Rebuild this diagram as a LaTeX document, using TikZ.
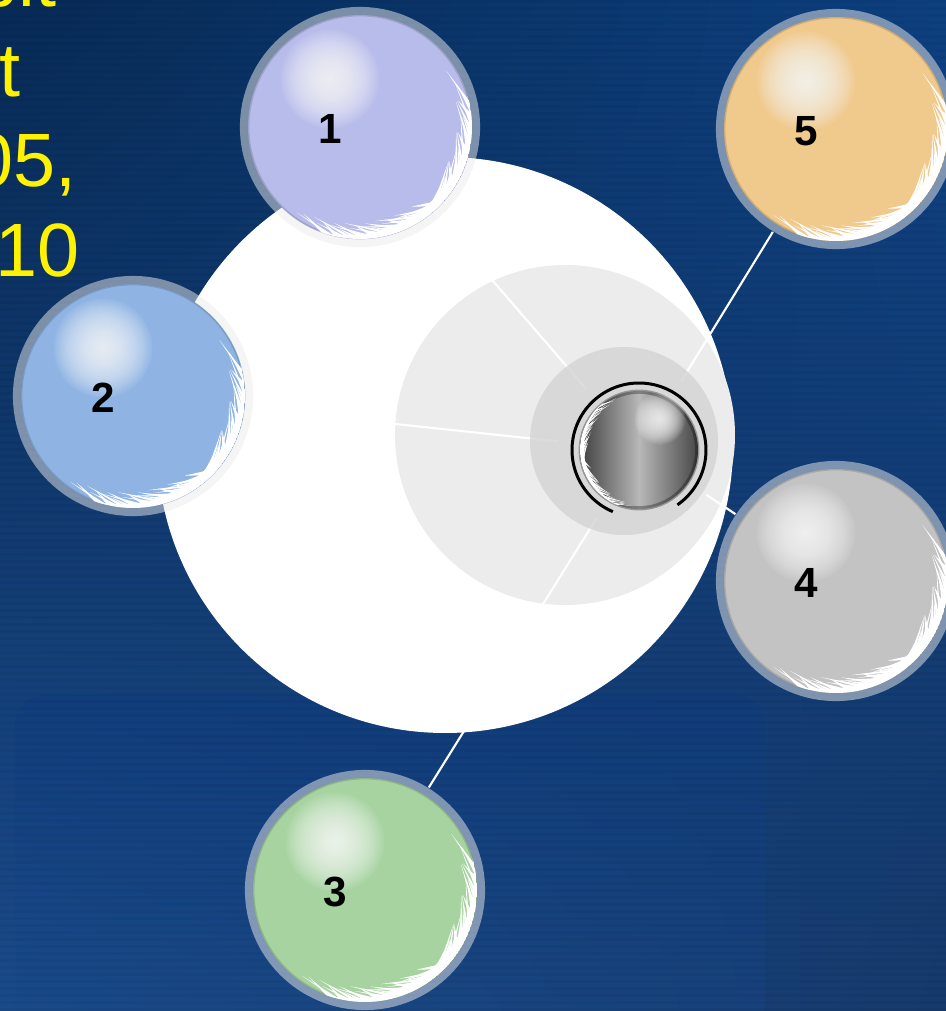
\documentclass[tikz,border=0pt]{standalone}
\usepackage{fontspec}
\setmainfont{Liberation Sans}
\usetikzlibrary{calc, shadings}

\definecolor{bgtl}{HTML}{072A55}
\definecolor{bgtr}{HTML}{0D4080}
\definecolor{bgbl}{HTML}{1A4A8A}
\definecolor{bgbr}{HTML}{163A6C}
\definecolor{panel}{HTML}{0B3A82}
\definecolor{lilac}{HTML}{B8BCEA}
\definecolor{sky}{HTML}{8FB4E4}
\definecolor{mint}{HTML}{A6D3A0}
\definecolor{silver}{HTML}{C3C3C3}
\definecolor{sand}{HTML}{F0C98C}
\definecolor{discgray}{HTML}{ECECEC}
\definecolor{hubgray}{HTML}{D4D4D4}

% soft white spot, stacked circles
\newcommand\glow[2]{%
  \foreach \k in {1,...,24}
    \fill[white, opacity=.07] #1 circle ({#2*(1.03-\k/24)});
}

% white feathered crescent: centre, radius, from, to, thickness
\newcommand\feather[5]{%
  \begin{scope}[shift={#1}]
    \clip (0,0) circle (#2);
    \pgfmathsetmacro\fmid{(#3+#4)/2}
    \fill[white] (#3:#2) arc[start angle=#3, end angle=#4, radius=#2]
      -- plot[domain=#4:#3, samples=40] (\x:{#2-#5*sin((\x-(#4))/((#3)-(#4))*180)})
      -- cycle;
    \pgfmathsetmacro\fa{#4+2}
    \pgfmathsetmacro\fb{#4+5}
    \pgfmathsetmacro\fc{#3-2}
    \foreach \a [count=\i] in {\fa,\fb,...,\fc} {
      \pgfmathsetmacro\t{#5*sin((\a-(#4))/((#3)-(#4))*180)}
      \pgfmathsetmacro\d{ifthenelse(\a>\fmid,1,-1)}
      \pgfmathsetmacro\len{9+6*mod(\i,3)}
      \pgfmathsetmacro\dep{#5*(.5+.4*mod(\i,2))}
      \fill[white] ({\a-1.8}:{#2-\t+1}) -- ({\a+\d*\len}:{#2-\t-\dep})
        -- ({\a+1.8}:{#2-\t+1}) -- cycle;
    }
  \end{scope}
}

% numbered ball with its ring
\newcommand\ball[4]{%
  \node[ring] (#1) at #2 {};
  \fill[#3] (#1.center) circle (112);
  \glow{([shift={(-30,48)}]#1.center)}{50}
  \draw[#3!70!black, opacity=.45, line width=.5pt] (#1.center) circle (111.5);
  \feather{(#1.center)}{112}{16}{-110}{9}
  \node[num] (#1n) at ([shift={(-30,-2)}]#1.center) {#4};
}

\begin{document}
\begin{tikzpicture}[x=0.01cm, y=0.01cm,
    ring/.style={circle, fill=gray!15, fill opacity=.5, minimum size=2.4cm, inner sep=0pt},
    core/.style={circle, minimum size=1.6cm, inner sep=0pt},
    link/.style={white, line width=.6pt},
    num/.style={font=\bfseries\fontsize{12}{14}\selectfont, inner sep=0pt},
    headline/.style={text=yellow, font=\fontsize{21.5}{25}\selectfont, anchor=base west, inner sep=0pt}]
  \useasboundingbox (0,0) rectangle (946,1011);
  \clip (0,0) rectangle (946,1011);

  % backdrop
  \shade[upper left=bgtl, upper right=bgtr, lower left=bgbl, lower right=bgbr]
    (0,0) rectangle (946,1011);
  \shade[top color=panel, bottom color=bgbl, opacity=.35, rounded corners=.3cm]
    (15,-20) rectangle (765,316);
  \foreach \s in {0,7,...,1011}
    \fill[black, opacity=.04] (0,\s) rectangle (946,\s+3);

  % discs
  \fill[white] (445,566) circle (288);
  \fill[discgray] (565,576) circle (170);
  \node[core] (core) at (639,561) {};

  % the five balls
  \ball{b1}{(360,884)}{lilac}{1}
  \ball{b2}{(133,615)}{sky}{2}
  \ball{b3}{(365,121)}{mint}{3}
  \ball{b4}{(836,430)}{silver}{4}
  \ball{b5}{(836,882)}{sand}{5}

  \foreach \b in {b1,b2,b3,b4,b5}
    \draw[link] (core) -- (\b);

  \fill[hubgray, opacity=.8] (624,570) circle (94);

  % metal hub
  \node[circle, minimum size=1.18cm, inner sep=0pt] (hub) at (core) {};
  \shade[left color=black!75, right color=black!72, middle color=black!28]
    (hub.center) circle (59);
  \draw[black, line width=1.2pt, opacity=.3] (hub.center) circle (58.3);
  \glow{([shift={(21,31)}]hub.center)}{26}
  \feather{(hub.center)}{59}{248}{130}{4}
  \draw[black, line width=.85pt] ([shift={(-55:67)}]hub.center)
    arc[start angle=-55, end angle=247, radius=67];

  % heading, cut at the edge
  \node[headline] (head1) at (-24,1004) {bit};
  \node[headline] (head2) at (-1,914) {t};
  \node[headline] (head3) at (-29,824) {05,};
  \node[headline] (head4) at (-5,734) {10};
\end{tikzpicture}
\end{document}
